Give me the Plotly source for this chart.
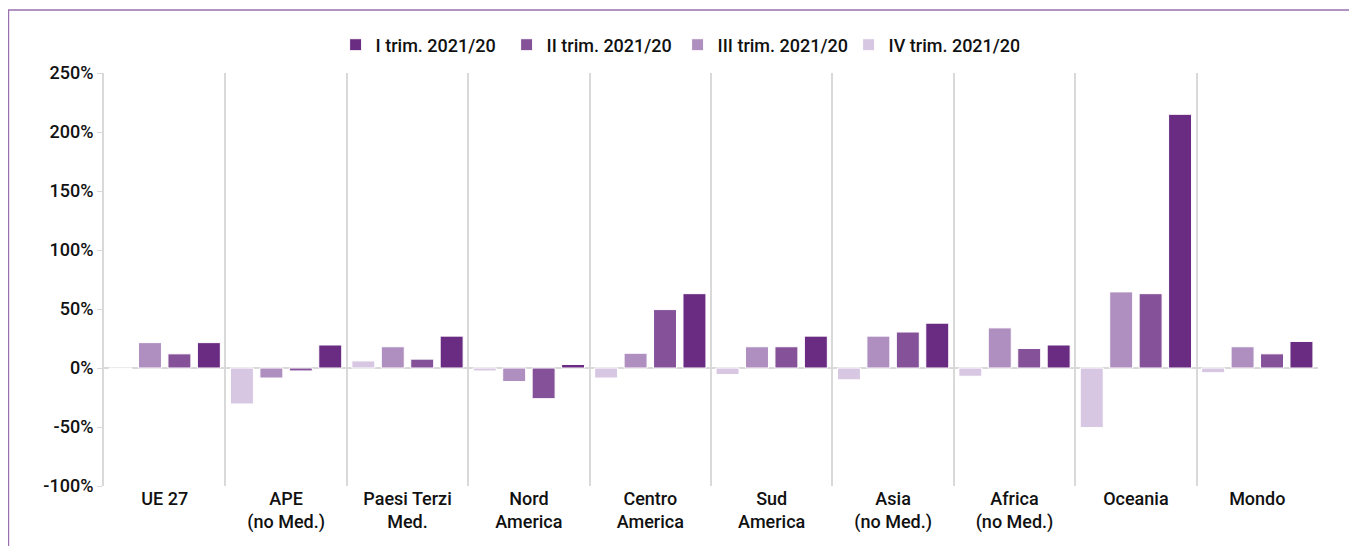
import plotly.graph_objects as go

categories = ["UE 27", "APE<br>(no Med.)", "Paesi Terzi<br>Med.", "Nord<br>America",
              "Centro<br>America", "Sud<br>America", "Asia<br>(no Med.)",
              "Africa<br>(no Med.)", "Oceania", "Mondo"]
series_names = ["I trim. 2021/20", "II trim. 2021/20", "III trim. 2021/20", "IV trim. 2021/20"]
trim_I = [21.5, 19.5, 27, 3, 63, 27, 38, 19.5, 215, 22.5]
trim_II = [12, -2.5, 7.5, -26, 49.5, 18, 30.5, 16.5, 63, 12]
trim_III = [21.5, -8.5, 18, -11.5, 12.5, 18, 27, 34, 64.5, 18]
trim_IV = [-0.5, -30.5, 6, -2.5, -8.5, -5.5, -10, -7, -50.5, -4]
tick_vals = [-100, -50, 0, 50, 100, 150, 200, 250]
tick_text = ["-100%", "-50%", "0%", "50%", "100%", "150%", "200%", "250%"]

colors = {"I": "#6A2C82", "II": "#85529A", "III": "#AE8FC0", "IV": "#D7C7E3"}

FONT = "Roboto, Liberation Sans, sans-serif"

fig = go.Figure()
for name, vals, key in [(series_names[3], trim_IV, "IV"), (series_names[2], trim_III, "III"),
                        (series_names[1], trim_II, "II"), (series_names[0], trim_I, "I")]:
    fig.add_trace(go.Bar(x=categories, y=vals, name=name,
                         marker=dict(color=colors[key], line=dict(color="white", width=1))))

fig.update_layout(
    width=1349, height=538,
    margin=dict(l=96, r=39, t=65, b=60),
    paper_bgcolor="white", plot_bgcolor="white",
    barmode="group", bargap=0.03, bargroupgap=0.22,
    font=dict(family=FONT, size=18, color="#111111", weight=500),
    legend=dict(orientation="h", traceorder="reversed", x=0.4725, xanchor="center",
                y=1.023, yanchor="bottom", font=dict(size=18, weight=500), itemwidth=30,
                entrywidth=126, entrywidthmode="pixels"),
    showlegend=True,
)
fig.update_xaxes(showgrid=True, gridcolor="#D9D9D9", gridwidth=2, tickson="boundaries",
                 ticks="", showline=False, tickfont=dict(size=18, weight=500),
                 range=[-0.5, 9.5], automargin=False)
fig.update_yaxes(range=[-100, 250], tickvals=tick_vals, ticktext=tick_text, showgrid=False,
                 zeroline=True, zerolinecolor="#D9D9D9", zerolinewidth=2,
                 showline=True, linecolor="#D9D9D9", linewidth=2,
                 ticks="outside", ticklen=5, tickcolor="#D9D9D9", tickwidth=1,
                 tickfont=dict(size=18, weight=500), automargin=False)

fig.add_shape(type="rect", xref="paper", yref="paper", x0=-0.0787, x1=1.2, y0=-0.3, y1=1.1525,
              line=dict(color="#9B70AE", width=1.5), fillcolor="rgba(0,0,0,0)", layer="below")

fig.write_html("out.html")
